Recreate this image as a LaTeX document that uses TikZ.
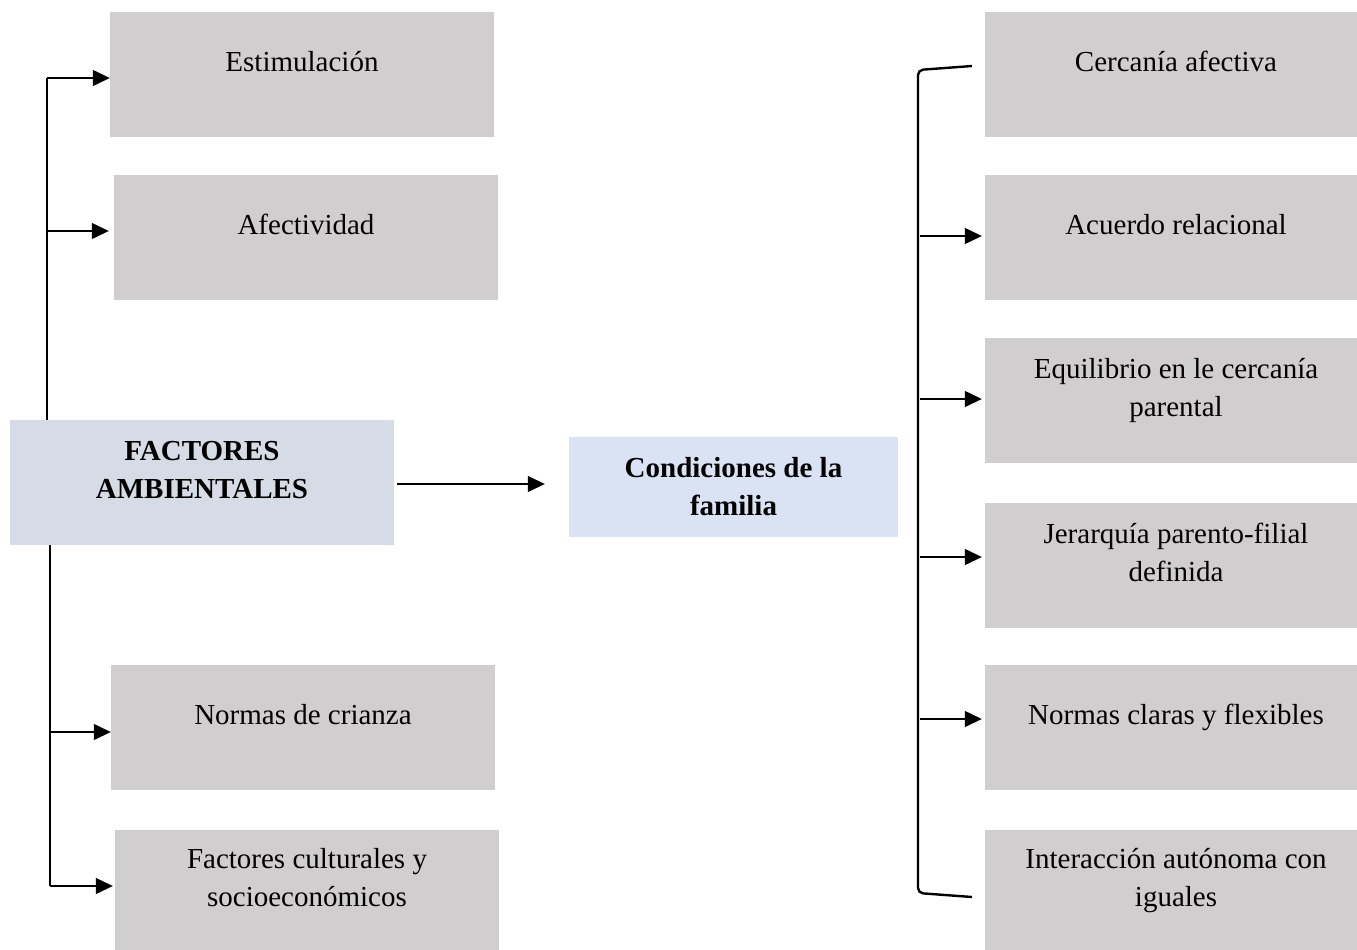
\documentclass[tikz,border=0pt]{standalone}
\usepackage{fontspec}
\setmainfont{Liberation Serif}
\usetikzlibrary{arrows.meta}

\definecolor{boxgray}{HTML}{D0CECE}
\definecolor{factblue}{HTML}{D6DCE5}
\definecolor{condblue}{HTML}{DAE3F3}

\tikzset{
	item/.style={fill=boxgray, minimum width=384pt, minimum height=125pt, inner sep=0pt,
		align=center, text height=20pt, text depth=26pt, font=\fontsize{29}{38}\selectfont},
	twoline/.style={text height=58pt},
	rightitem/.style={item, minimum width=382pt},
	factbox/.style={item, twoline, fill=factblue, font=\fontsize{29}{38}\selectfont\bfseries},
	condbox/.style={fill=condblue, minimum width=329pt, minimum height=100pt, inner sep=0pt,
		align=center, font=\fontsize{29}{38}\selectfont\bfseries},
	arr/.style={line width=1.3pt, -{Triangle[length=17pt,width=16pt]}},
	trunk/.style={line width=1.3pt},
	bracket/.style={line width=2.4pt, rounded corners=5pt}
}

\begin{document}
\begin{tikzpicture}[x=1pt,y=-1pt]
	\useasboundingbox (0,0) rectangle (1357,950);

	% left column
	\node[item] (estim) at (302,74.5) {Estimulación};
	\node[item] (afect) at (306,237.5) {Afectividad};
	\node[factbox] (fact) at (202,482.5) {FACTORES\\AMBIENTALES};
	\node[item] (normas) at (303,727.5) {Normas de crianza};
	\node[item, twoline, minimum height=120pt] (cultur) at (307,890) {Factores culturales y\\socioeconómicos};

	% middle
	\node[condbox] (cond) at (733.5,487) {Condiciones de la\\familia};

	% right column
	\node[rightitem] (cerca) at (1176,74.5) {Cercanía afectiva};
	\node[rightitem] (acuer) at (1176,237.5) {Acuerdo relacional};
	\node[rightitem, twoline] (equil) at (1176,400.5) {Equilibrio en le cercanía\\parental};
	\node[rightitem, twoline] (jerar) at (1176,565.5) {Jerarquía parento-filial\\definida};
	\node[rightitem] (nclar) at (1176,727.5) {Normas claras y flexibles};
	\node[rightitem, twoline, minimum height=120pt] (inter) at (1176,890) {Interacción autónoma con\\iguales};

	% left connectors
	\coordinate (l1) at (47,78);
	\coordinate (l2) at (47,231);
	\coordinate (l3) at (50,732);
	\coordinate (l4) at (50,886);
	\draw[trunk] (l1) -- (l1 |- fact.north);
	\draw[trunk] (l3 |- fact.south) -- (l4);
	\draw[arr] (l1) -- (l1 -| estim.west);
	\draw[arr] (l2) -- ([xshift=-5pt]l2 -| afect.west);
	\draw[arr] (l3) -- (l3 -| normas.west);
	\draw[arr] (l4) -- ([xshift=-2pt]l4 -| cultur.west);

	\draw[arr] ([xshift=3pt,yshift=-1.5pt]fact.east) -- ([xshift=-24pt,yshift=-1.5pt]fact.east -| cond.west);

	% right bracket
	\coordinate (brtop) at (972,66);
	\coordinate (brbot) at (972,897);
	\draw[bracket] (brtop) -- (918,70) -- (918,893) -- (brbot);
	\coordinate (r2) at (920,236);
	\coordinate (r3) at (920,399);
	\coordinate (r4) at (920,557);
	\coordinate (r5) at (920,719);
	\foreach \c/\b in {r2/acuer, r3/equil, r4/jerar, r5/nclar}
		\draw[arr] (\c) -- ([xshift=-3pt]\c -| \b.west);
\end{tikzpicture}
\end{document}
